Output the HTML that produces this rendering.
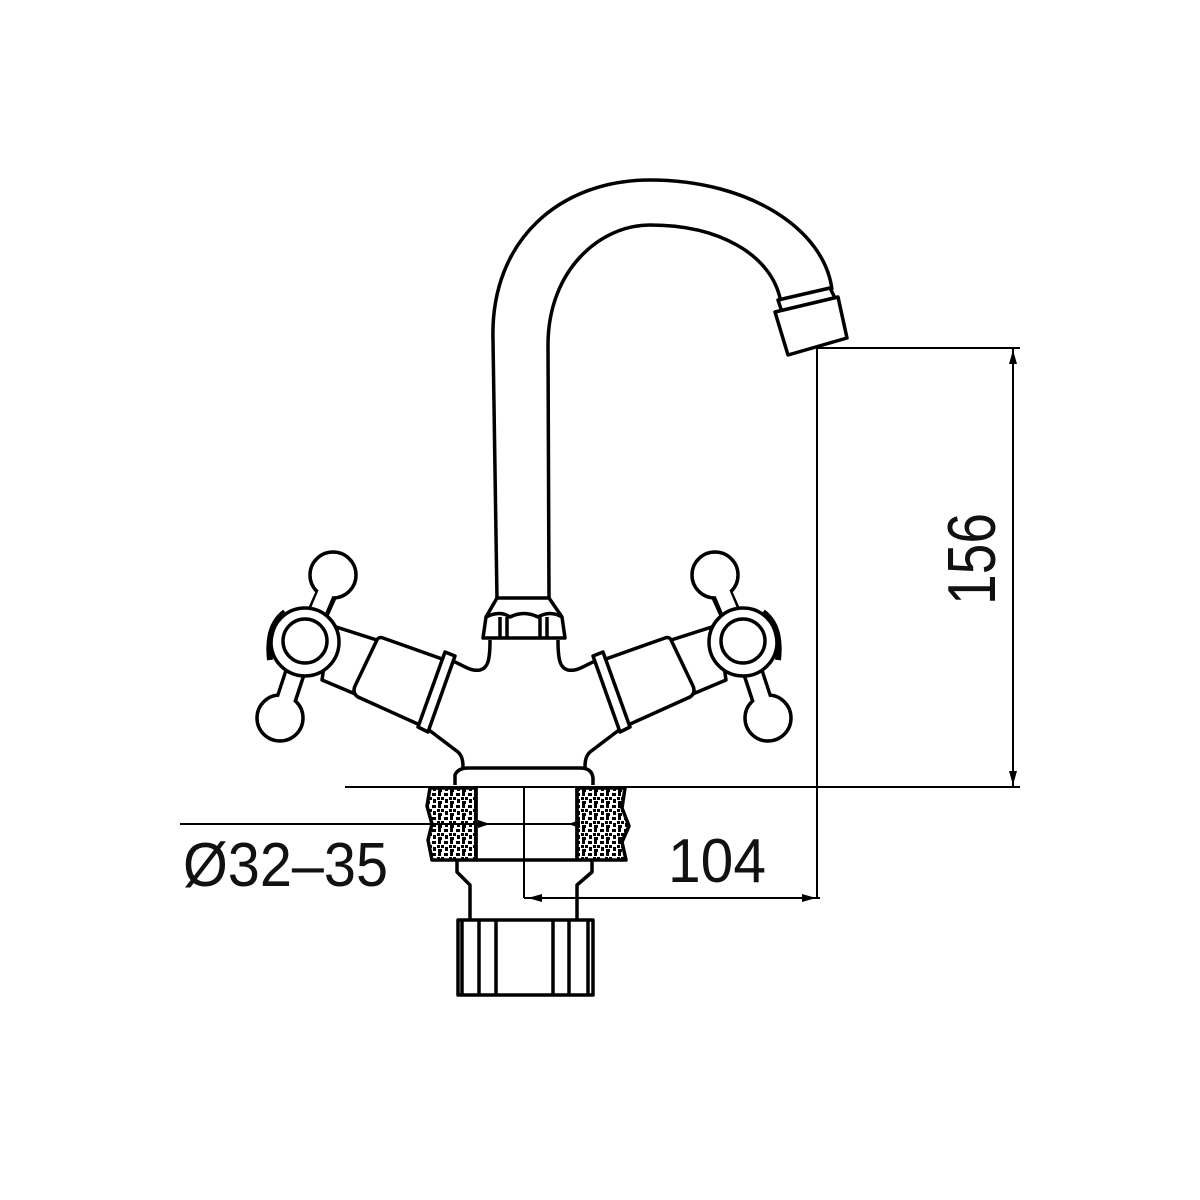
<!DOCTYPE html>
<html><head><style>body{margin:0;background:#fff}svg{display:block}</style></head><body>
<svg width="1200" height="1200" viewBox="0 0 1200 1200" xmlns="http://www.w3.org/2000/svg">
<defs>
<pattern id="foam" width="12" height="12" patternUnits="userSpaceOnUse">
<rect width="12" height="12" fill="#fff"/>
<path d="M0 1h4v3h-4zM6 0h3v4h-3zM9 5h3v3h-3zM1 7h3v4h-3zM5 5h3v3h-3zM6 9h4v3h-4z" fill="#000"/>
</pattern>
<g id="handle" fill="#fff" stroke="#000" stroke-width="3.5" stroke-linejoin="round">
<path d="M450,660 C462,664 470,672 480,670 C488,668 490,660 490,640"/>
<path d="M425,727 L458,752 C462,756 463,760 463,768"/>
<path d="M330,625 L383,642 L360,696 L322,680 Z"/>
<path d="M383,638 L445,660 L420,725 L358,697 Q352,693 355,686 L376,642 Q378,636 383,638 Z"/>
<path d="M445,652 L455,656 L428,732 L418,727 Z"/>
<circle cx="333" cy="575" r="23"/>
<circle cx="280" cy="718" r="23"/>
<path d="M305,642 L326,595 M305,642 L287,697" stroke="#000" stroke-width="22" stroke-linecap="butt" fill="none"/>
<path d="M305,642 L333,575 M305,642 L280,718" stroke="#fff" stroke-width="15" fill="none"/>
<circle cx="305" cy="642" r="34"/>
<circle cx="305" cy="641" r="22"/>
<path d="M285,612 Q266,626 270,660" stroke-width="6" fill="none"/>
</g>
</defs>
<g fill="none" stroke="#000" stroke-width="3.5" stroke-linejoin="round">
<path d="M497,600 L493,340 C490,240 560,180 650,180 C750,180 825,230 832,290"/>
<path d="M549,600 L548,345 C548,270 600,225 650,225 C720,225 770,255 780,298"/>
<path d="M778,300 L830,288 L836,300 L782,312 Z" fill="#fff"/>
<path d="M775,312 L838,297 L847,338 L788,355 Z" fill="#fff"/>
<path d="M497,598 L549,598 L562,617 L565,638 L483,638 L486,617 Z" fill="#fff"/>
<path d="M486,617 Q500,610 510,617 Q524,610 538,617 Q550,610 562,617 M500,617 V638 M507,617 V638 M540,617 V638 M547,617 V638"/>
</g>
<use href="#handle"/>
<use href="#handle" transform="translate(1048,0) scale(-1,1)"/>
<g fill="none" stroke="#000" stroke-width="3.5" stroke-linejoin="round">
<path d="M455,785 L455,775 Q458,768 468,768 L580,768 Q592,768 593,778 L593,785" fill="#fff"/>
<path d="M430,788 L476,788 L476,860 L432,860 L428,840 L432,824 L427,806 Z" fill="url(#foam)"/>
<path d="M577,788 L625,788 L622,808 L629,826 L622,842 L626,860 L577,860 Z" fill="url(#foam)"/>
<path d="M476,788 V860 M577,788 V860 M476,860 H577"/>
<path d="M457,860 L457,872 L470,885 L470,920 M592,860 L592,872 L577,885 L577,920"/>
<path d="M458,920 H593 V995 H458 Z M462,920 V995 M479,920 V995 M496,920 V995 M553,920 V995 M569,920 V995 M588,920 V995"/>
</g>
<g fill="none" stroke="#000" stroke-width="2">
<path d="M345,787 H690 M180,824 H480 M480,824 H577 M524,788 V898 M524,898 H820 M817,348 V898 M817,348 H1020 M690,787 H1020 M1013,348 V787"/>
</g>
<g fill="#000">
<path d="M490,824 l-12,-4 v8z M568,824 l12,-4 v8z M528,898 l14,-4 v8z M816,898 l-14,-4 v8z M1013,350 l-4,14 h8z M1013,785 l-4,-14 h8z"/>
</g>
<g font-family="'Liberation Sans Narrow','Liberation Sans',sans-serif" font-size="62" fill="#111">
<text x="183" y="886" textLength="205" lengthAdjust="spacingAndGlyphs">Ø32–35</text>
<text x="668" y="882" textLength="98" lengthAdjust="spacingAndGlyphs">104</text>
<text transform="translate(995,605) rotate(-90)" font-size="68" textLength="92" lengthAdjust="spacingAndGlyphs">156</text>
</g>
</svg>
</body></html>
